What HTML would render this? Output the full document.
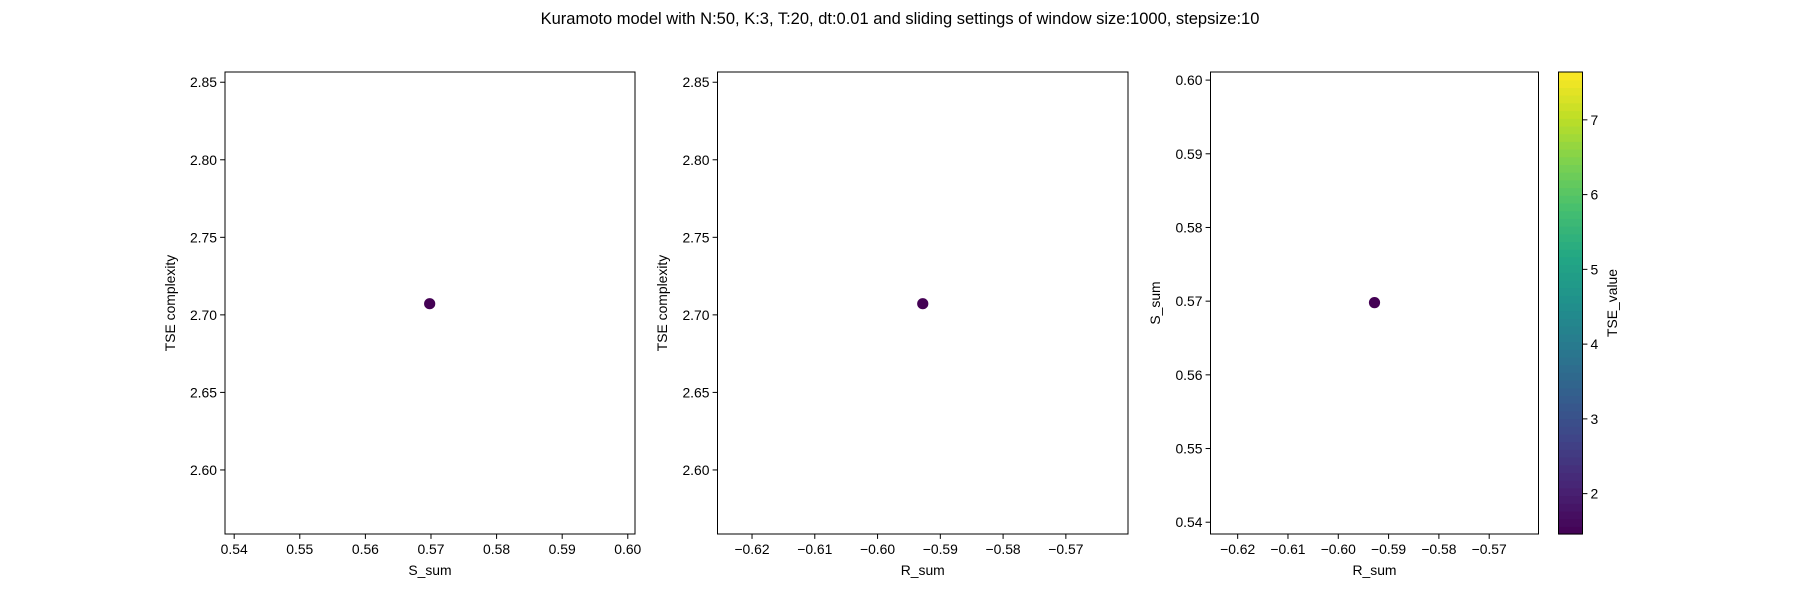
<!DOCTYPE html>
<html><head><meta charset="utf-8">
<style>
html,body{margin:0;padding:0;background:#fff;}
svg{display:block;font-family:"Liberation Sans","DejaVu Sans",sans-serif;}
</style></head>
<body>
<svg id="fig" width="1800" height="600" viewBox="0 0 1800 600" xmlns="http://www.w3.org/2000/svg">
<rect width="1800" height="600" fill="#fff"/>
<text x="900" y="24" text-anchor="middle" font-size="16.5" fill="#000">Kuramoto model with N:50, K:3, T:20, dt:0.01 and sliding settings of window size:1000, stepsize:10</text>
</svg>
<script>
// data
const sSum = [0.5698];
const rSum = [-0.5928];
const tseComplexity = [2.7072];
const tseValue = [1.46];
const cbarTicks = [2, 3, 4, 5, 6, 7];
const ticksS = [0.54, 0.55, 0.56, 0.57, 0.58, 0.59, 0.60];
const ticksR = [-0.62, -0.61, -0.60, -0.59, -0.58, -0.57];
const ticksTSE = [2.60, 2.65, 2.70, 2.75, 2.80, 2.85];
const ticksSy = [0.54, 0.55, 0.56, 0.57, 0.58, 0.59, 0.60];

const NS = "http://www.w3.org/2000/svg";
const svg = document.getElementById('fig');
function el(tag, attrs, parent) {
  const e = document.createElementNS(NS, tag);
  for (const k in attrs) e.setAttribute(k, attrs[k]);
  (parent || svg).appendChild(e);
  return e;
}
const viridis = [[68,1,84],[72,35,116],[64,67,135],[52,94,141],[41,120,142],[32,144,140],[34,167,132],[68,190,112],[121,209,81],[189,222,38],[253,231,37]];
function cmap(t) {
  t = Math.max(0, Math.min(1, t));
  const p = t * (viridis.length - 1), i = Math.min(Math.floor(p), viridis.length - 2), f = p - i;
  const a = viridis[i], b = viridis[i + 1];
  return `rgb(${Math.round(a[0]+(b[0]-a[0])*f)},${Math.round(a[1]+(b[1]-a[1])*f)},${Math.round(a[2]+(b[2]-a[2])*f)})`;
}
const cMin = 1.46, cMax = 7.64;
const axTop = 72, axBottom = 534;

function fmt(v, d) { const s = Math.abs(v).toFixed(d); return (v < 0 ? '\u2212' : '') + s; }

function panel(name, x0, x1, xmin, xmax, ymin, ymax, xt, yt, xd, yd, xs, ys, xlabel, ylabel, ylabelX) {
  const g = el('g', {});
  
  
  const X = v => x0 + (v - xmin) / (xmax - xmin) * (x1 - x0);
  const Y = v => axBottom - (v - ymin) / (ymax - ymin) * (axBottom - axTop);
  xt.forEach(v => {
    const px = X(v);
    const t = el('line', {x1: px, x2: px, y1: axBottom, y2: axBottom + 4.9, stroke: '#000', 'stroke-width': 1}, g);
    
    
    const l = el('text', {x: px, y: axBottom + 20, 'text-anchor': 'middle', 'font-size': 13.9}, g);
    
    
    l.textContent = fmt(v, xd);
  });
  yt.forEach(v => {
    const py = Y(v);
    const t = el('line', {x1: x0 - 4.9, x2: x0, y1: py, y2: py, stroke: '#000', 'stroke-width': 1}, g);
    
    
    const l = el('text', {x: x0 - 8, y: py + 5, 'text-anchor': 'end', 'font-size': 13.9}, g);
    
    
    l.textContent = fmt(v, yd);
  });
  for (let i = 0; i < xs.length; i++) {
    const c = el('circle', {cx: X(xs[i]), cy: Y(ys[i]), r: 5.6, fill: cmap((tseValue[i] - cMin) / (cMax - cMin))}, g);
    
    
  }
  const f = el('rect', {x: x0, y: axTop, width: x1 - x0, height: axBottom - axTop, fill: 'none', stroke: '#000', 'stroke-width': 1}, g);
  
  
  const xl = el('text', {x: (x0 + x1) / 2, y: 575, 'text-anchor': 'middle', 'font-size': 13.9}, g);
  
  
  xl.textContent = xlabel;
  const yl = el('text', {x: 0, y: 0, 'text-anchor': 'middle', 'font-size': 13.9, transform: `translate(${ylabelX},${(axTop + axBottom) / 2}) rotate(-90)`}, g);
  
  
  yl.textContent = ylabel;
}

panel('panel-s-vs-tse', 225, 635, 0.5386, 0.6011, 2.5587, 2.8566, ticksS, ticksTSE, 2, 2, sSum, tseComplexity, 'S_sum', 'TSE complexity', 175);
panel('panel-r-vs-tse', 717.5, 1128, -0.6255, -0.5601, 2.5587, 2.8566, ticksR, ticksTSE, 2, 2, rSum, tseComplexity, 'R_sum', 'TSE complexity', 667);
panel('panel-r-vs-s', 1210.5, 1538.5, -0.6254, -0.5602, 0.5384, 0.6011, ticksR, ticksSy, 2, 2, rSum, sSum, 'R_sum', 'S_sum', 1160);

// colorbar
const cb = el('g', {});


const cx0 = 1558.5, cx1 = 1582.5, nb = 60;
for (let i = 0; i < nb; i++) {
  const y1 = axBottom - (i + 1) * (axBottom - axTop) / nb;
  el('rect', {x: cx0, y: y1, width: cx1 - cx0, height: (axBottom - axTop) / nb + 0.6, fill: cmap((i + 0.5) / nb), stroke: 'none'}, cb);
}
el('rect', {x: cx0, y: axTop, width: cx1 - cx0, height: axBottom - axTop, fill: 'none', stroke: '#000', 'stroke-width': 1}, cb);
const CY = v => axBottom - (v - cMin) / (cMax - cMin) * (axBottom - axTop);
cbarTicks.forEach(v => {
  const py = CY(v);
  const t = el('line', {x1: cx1, x2: cx1 + 4.9, y1: py, y2: py, stroke: '#000', 'stroke-width': 1}, cb);
  
  
  const l = el('text', {x: cx1 + 8, y: py + 5, 'font-size': 13.9}, cb);
  
  
  l.textContent = String(v);
});
const cl = el('text', {x: 0, y: 0, 'text-anchor': 'middle', 'font-size': 13.9, transform: `translate(1617,${(axTop + axBottom) / 2}) rotate(-90)`}, cb);


cl.textContent = 'TSE_value';
</script>
</body></html>
